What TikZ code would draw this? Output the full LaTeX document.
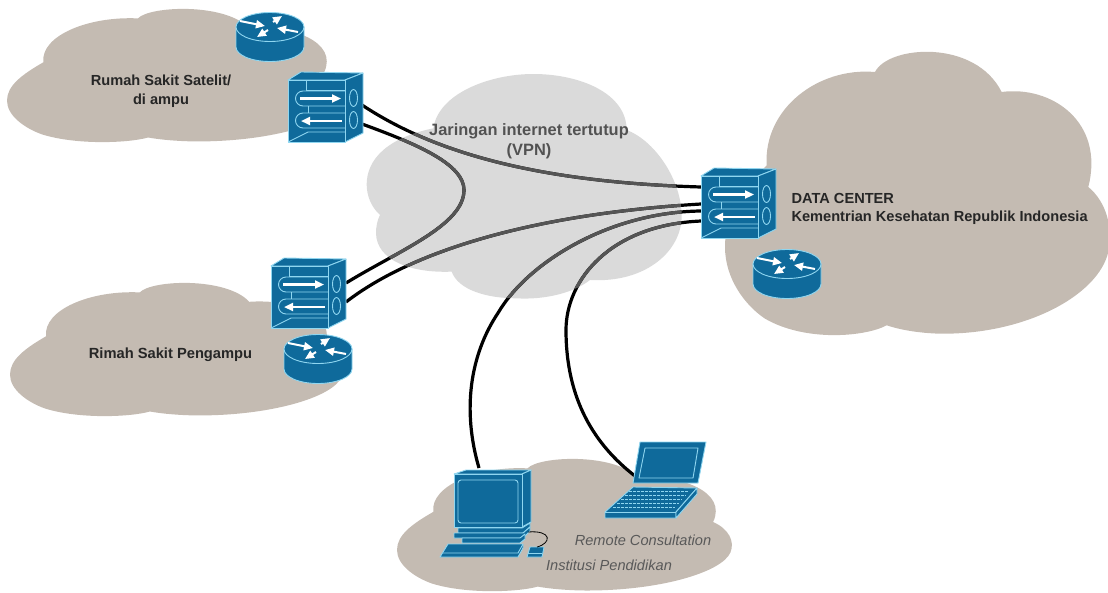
\documentclass[tikz,border=0pt]{standalone}
\usepackage{fontspec}
\setmainfont{Liberation Sans}
\usetikzlibrary{arrows.meta}
\definecolor{taupe}{HTML}{C4BBB2}
\definecolor{vpngray}{HTML}{DADADA}
\definecolor{netblue}{HTML}{0F6A9B}
\definecolor{edgeblue}{HTML}{8FD6F0}
\definecolor{inkdark}{HTML}{555555}
\newcommand{\cloudshape}{
  (125,340) .. controls (115,170) and (280,45) .. (450,60)
  .. controls (490,-20) and (750,-40) .. (830,120)
  .. controls (980,100) and (1140,210) .. (1090,405)
  .. controls (1145,450) and (1165,530) .. (1150,600)
  .. controls (1120,730) and (900,850) .. (640,845)
  .. controls (585,843) and (530,835) .. (485,820)
  .. controls (420,855) and (240,870) .. (120,800)
  .. controls (60,760) and (0,680) .. (0,585)
  .. controls (0,490) and (50,420) .. (125,340) -- cycle
}
\newcommand{\vpnshape}{
  (60,435) .. controls (10,390) and (0,300) .. (70,240)
  .. controls (110,205) and (170,185) .. (220,175)
  .. controls (235,70) and (390,12) .. (520,12)
  .. controls (660,12) and (800,70) .. (800,180)
  .. controls (880,210) and (960,320) .. (965,430)
  .. controls (970,540) and (860,640) .. (690,630)
  .. controls (640,670) and (550,690) .. (470,685)
  .. controls (380,685) and (295,660) .. (275,605)
  .. controls (150,610) and (50,570) .. (48,490)
  .. controls (48,470) and (52,450) .. (60,435) -- cycle
}
\newcommand{\linesA}{
  \draw[netline] (a1) .. controls (430,150) and (530,182) .. (d1);
  \draw[netline] (a2) .. controls (420,145) and (464,165) .. (464,190) .. controls (464,225) and (400,250) .. (b1);
  \draw[netline] (b2) .. controls (420,245) and (550,213) .. (d2);
  \draw[netline] (c1) .. controls (462,410) and (470,355) .. (498,313) .. controls (528,262) and (610,212) .. (d3);
  \draw[netline] (c2) .. controls (595,445) and (566,400) .. (566,330) .. controls (566,280) and (610,225) .. (d4);
}
\tikzset{
  x=1pt,y=-1pt,
  netline/.style={line width=3.2pt},
  taupefill/.style={fill=taupe},
  vpnfill/.style={fill=vpngray},
  devline/.style={draw=edgeblue,line width=0.9pt,line join=round},
  devfill/.style={devline,fill=netblue},
  arrowwhite/.style={white,line width=2.2pt,-{Triangle[length=9pt,width=8pt]}},
  switchpic/.pic={
    \path[devfill] (0,0) -- (13,-8) -- (75,-7) -- (57,0) -- cycle;
    \path[devfill] (57,0) -- (75,-7) -- (75,53) -- (57,62) -- cycle;
    \path[devfill] (0,0) rectangle (57,62);
    \draw[devline] (18,0) -- (18,10) (18,10) -- (57,10);
    \draw[devline] (57,11) -- (15,11) arc[start angle=270,end angle=90,radius=7.5] -- (57,26);
    \draw[devline] (57,33) -- (15,33) arc[start angle=270,end angle=90,radius=7.5] -- (57,48);
    \draw[devline] (20,26) -- (20,33);
    \draw[devline] (0,62) -- (20,52) -- (57,52);
    \draw[devline] (65.5,18) ellipse [x radius=4,y radius=8.5];
    \draw[devline] (65.5,40) ellipse [x radius=4,y radius=8.5];
    \draw[arrowwhite] (12,18.5) -- (53,18.5);
    \draw[arrowwhite] (54,41) -- (13,41);
  },
  routerpic/.pic={
    \path[devfill] (-34,0) -- (-34,20) arc[start angle=180,end angle=0,x radius=34,y radius=14.5] -- (34,0) -- cycle;
    \path[devfill] (0,0) ellipse [x radius=34,y radius=14.5];
    \draw[arrowwhite,line width=2pt] (-30,-6) -- (-5,-1);
    \draw[arrowwhite,line width=2pt] (28,5) -- (7,1);
    \draw[arrowwhite,line width=2pt] (3,-5) -- (12,-11);
    \draw[arrowwhite,line width=2pt] (-2,3) -- (-13,10);
  }
}
\begin{document}
\begin{tikzpicture}
\useasboundingbox (0,0) rectangle (1108,592);
% taupe clouds
\path[taupefill,shift={(7,9)},xscale=0.2909,yscale=0.1567] \cloudshape;
\path[taupefill,shift={(10,283)},xscale=0.2883,yscale=0.1567] \cloudshape;
\path[taupefill,shift={(725,52)},xscale=0.3333,yscale=0.3333] \cloudshape;
\path[taupefill,shift={(397,459)},xscale=0.29,yscale=0.1556] \cloudshape;
% VPN cloud
\path[vpnfill,shift={(360,70)},scale=0.3333] \vpnshape;
% connector ends
\coordinate (a1) at (362,105);
\coordinate (a2) at (362,124);
\coordinate (b1) at (346,283);
\coordinate (b2) at (346,302);
\coordinate (c1) at (479,468);
\coordinate (c2) at (635,476);
\coordinate (d1) at (701,187);
\coordinate (d2) at (701,204);
\coordinate (d3) at (701,211);
\coordinate (d4) at (701,221);
\linesA
\begin{scope}[inkdark]
  \clip[shift={(360,70)},scale=0.3333] \vpnshape;
  \linesA
\end{scope}
% devices
\pic at (288,80) {switchpic};
\pic at (701,176) {switchpic};
\pic at (271,266) {switchpic};
\pic at (270,27) {routerpic};
\pic at (787,264) {routerpic};
\pic at (318,349) {routerpic};
% desktop computer
\path[devfill] (454,474) -- (466,470) -- (531,470) -- (522,474) -- cycle;
\path[devfill] (522,474) -- (531,470) -- (531,522) -- (522,527) -- cycle;
\path[devfill] (454,474) rectangle (522,527);
\draw[devline,rounded corners=3pt] (458,480) rectangle (518,523);
\path[devfill] (458,528) -- (522,528) -- (530,523) -- (530,527) -- (523,533) -- (458,533) -- cycle;
\path[devfill] (454,533) -- (523,533) -- (530,527) -- (530,531) -- (523,538) -- (454,538) -- cycle;
\path[devfill] (462,538) -- (520,538) -- (525,534) -- (525,539) -- (520,543) -- (462,543) -- cycle;
\path[devfill] (448,544) -- (523,544) -- (523,548) -- (518,557) -- (440,557) -- cycle;
\draw[devline] (443,553) -- (518,553) -- (523,544);
\path[devfill] (530,547) -- (544,547) -- (542,557) -- (527,557) -- cycle;
\draw[devline] (528,553) -- (542,553);
\draw[black,line width=0.8pt] (528,532) .. controls (552,530) and (552,543) .. (537,547);
% laptop
\path[devfill] (640,442) -- (706,442) -- (698,483) -- (633,483) -- cycle;
\path[devline] (645,448) -- (698,448) -- (693,478) -- (639,478) -- cycle;
\path[devfill] (605,512) -- (633,487) -- (697,488) -- (676,512) -- (676,518) -- (605,518) -- cycle;
\path[devfill] (676,518) -- (697,494) -- (697,488) -- (676,512) -- cycle;
\draw[devline] (605,512) -- (676,512);
\draw[devline,dash pattern=on 3pt off 1pt] (629,491) -- (689,491) (625,495) -- (686,495) (621,499) -- (682,499) (617,503) -- (679,503) (613,507) -- (675,507);
% labels
\node[font=\bfseries\fontsize{14.6}{19}\selectfont,align=center,text=black!85] (t1) at (161,91.5) {Rumah Sakit Satelit/\\di ampu};
\node[font=\bfseries\fontsize{16.4}{20}\selectfont,align=center,text=black!68] (t2) at (529,141) {Jaringan internet tertutup\\(VPN)};
\node[font=\bfseries\fontsize{14.6}{18}\selectfont,align=left,anchor=west,text=black!85] (t3) at (788,208.5) {DATA CENTER\\Kementrian Kesehatan Republik Indonesia};
\node[font=\bfseries\fontsize{14.7}{17}\selectfont,text=black!85] (t4) at (170.5,354.5) {Rimah Sakit Pengampu};
\node[font=\itshape\fontsize{14.6}{17}\selectfont,text=black!65] (t5) at (643,540) {Remote Consultation};
\node[font=\itshape\fontsize{14.6}{17}\selectfont,text=black!65] (t6) at (609,565) {Institusi Pendidikan};
\end{tikzpicture}
\end{document}
